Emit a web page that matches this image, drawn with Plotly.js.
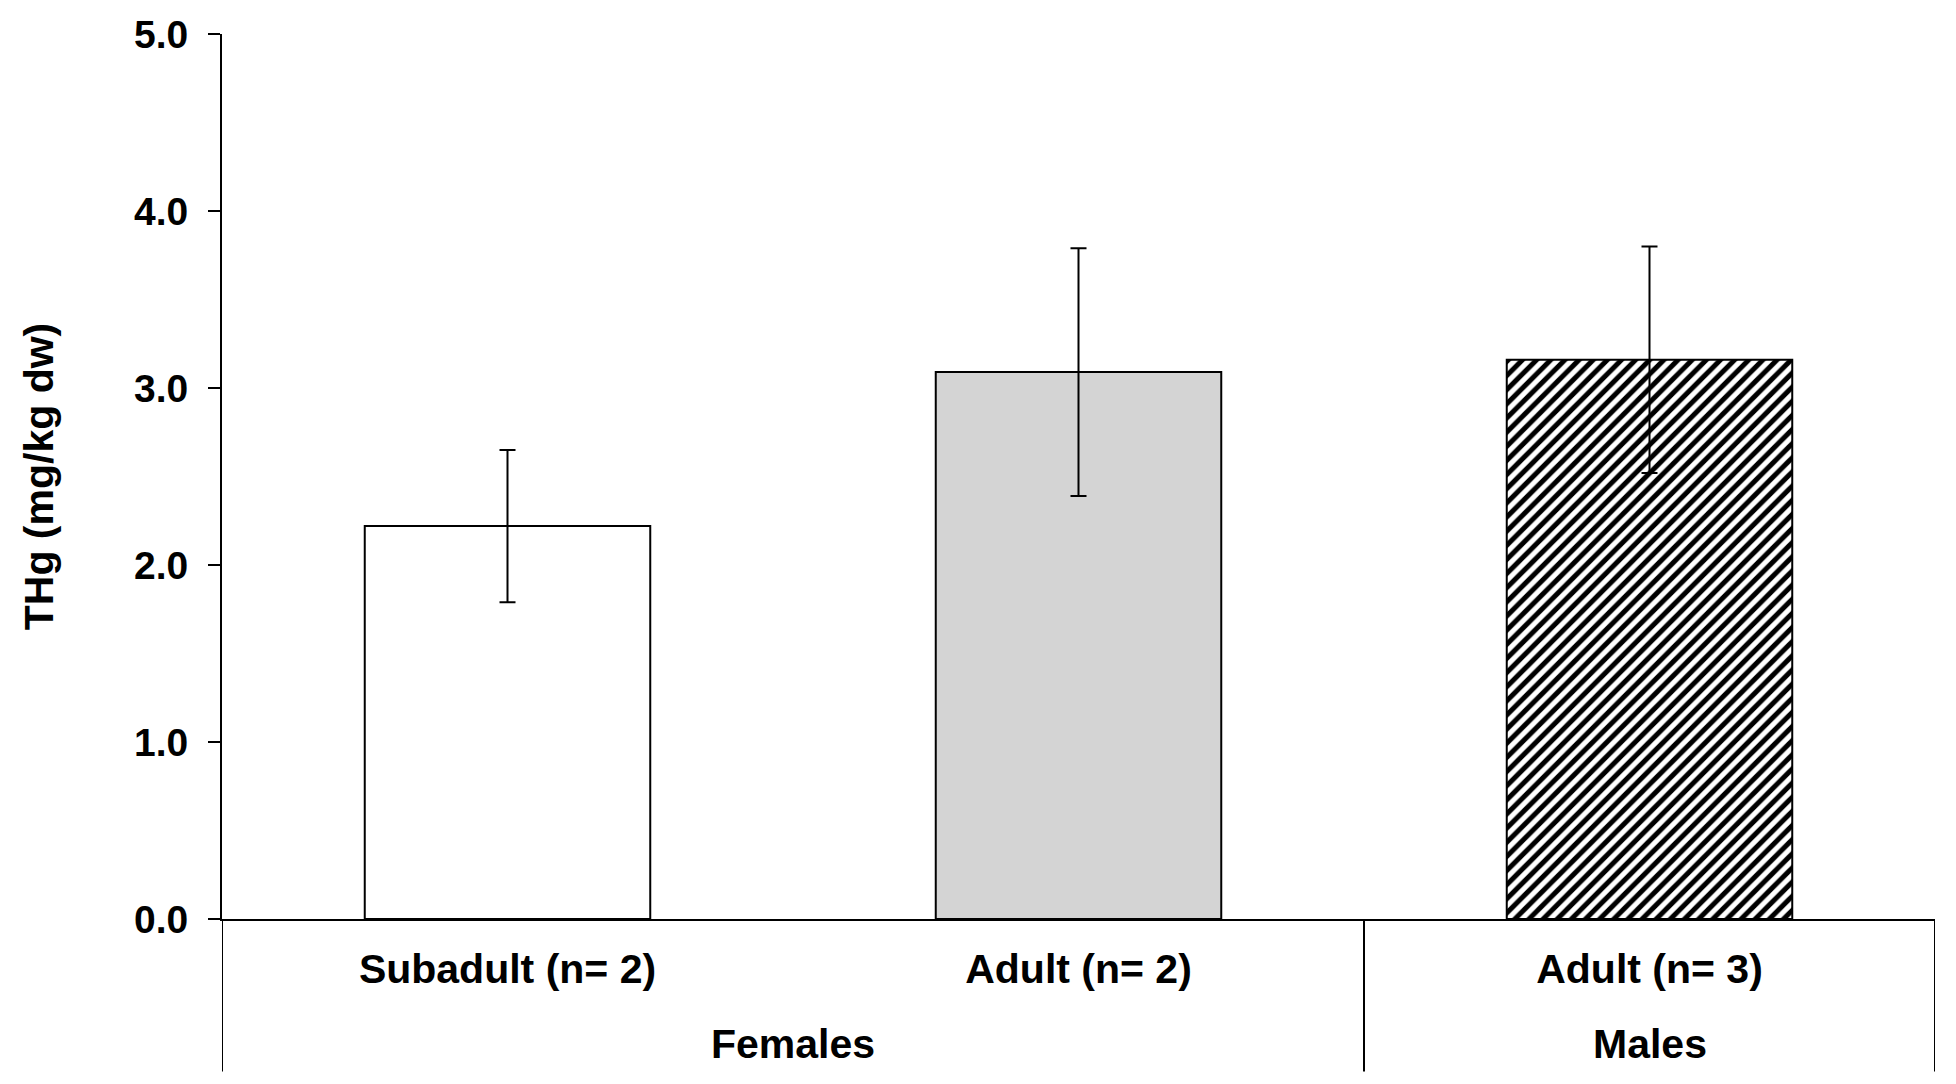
<!DOCTYPE html>
<html>
<head>
<meta charset="utf-8">
<script src="https://cdn.plot.ly/plotly-3.0.1.min.js"></script>
<style>html,body{margin:0;padding:0;background:#fff;}#chart{width:1956px;height:1084px;}</style>
</head>
<body>
<div id="chart"></div>
<script>
// ---- data ----
const ageClasses = ["Subadult (n= 2)", "Adult (n= 2)", "Adult (n= 3)"];
const sexGroups = ["Females", "Females", "Males"];
const thgMeans = [2.22, 3.09, 3.16];
const thgErrors = [0.43, 0.70, 0.64];
// fill colour (for the hatched bar this is the hatch-line colour)
const barColors = ["#ffffff", "#d4d4d4", "#000000"];
const barPatterns = ["", "", "/"];
const yTickValues = [0, 1, 2, 3, 4, 5];
const yTickLabels = ["0.0", "1.0", "2.0", "3.0", "4.0", "5.0"];

const FONT = "Liberation Sans, Arial, sans-serif";
const idx = ageClasses.map((_, i) => i);

// group label positions from the grouping array
const groups = [];
sexGroups.forEach((g, i) => {
  const last = groups[groups.length - 1];
  if (last && last.name === g) { last.end = i; }
  else groups.push({ name: g, start: i, end: i });
});

const trace = {
  type: "bar",
  x: idx,
  y: thgMeans,
  width: 0.5,
  marker: {
    color: barColors,
    line: { color: "#000", width: 2 },
    pattern: { shape: barPatterns, size: 10, solidity: 0.5, fillmode: "replace" }
  },
  error_y: { type: "data", array: thgErrors, visible: true, color: "#000", thickness: 2, width: 8 },
  hoverinfo: "skip",
  showlegend: false
};

const BELOW = -0.1723;
const shapes = [];
// vertical separators under the axis: left edge, group boundaries, right edge
const bounds = [-0.5];
groups.forEach(g => bounds.push(g.end + 0.5));
bounds.forEach(b => shapes.push({
  type: "line", xref: "x", yref: "paper", x0: b, x1: b, y0: 0, y1: BELOW,
  line: { color: "#000", width: 2 }
}));

const annotations = groups.map(g => ({
  text: g.name, xref: "x", yref: "paper", x: (g.start + g.end) / 2, y: -0.1418,
  xanchor: "center", yanchor: "middle", showarrow: false,
  font: { family: FONT, size: 41, color: "#000", weight: "bold" }
}));

const layout = {
  width: 1956, height: 1084,
  margin: { l: 222, r: 21, t: 34, b: 165, pad: 0 },
  paper_bgcolor: "#fff", plot_bgcolor: "#fff",
  showlegend: false,
  xaxis: {
    range: [-0.5, 2.5],
    tickmode: "array", tickvals: idx, ticktext: ageClasses,
    ticks: "", showgrid: false, zeroline: false,
    showline: true, linecolor: "#000", linewidth: 2,
    ticklabelstandoff: 13,
    tickfont: { family: FONT, size: 41, color: "#000", weight: "bold" },
    fixedrange: true
  },
  yaxis: {
    range: [0, 5],
    tickmode: "array", tickvals: yTickValues, ticktext: yTickLabels,
    ticks: "outside", ticklen: 12, tickwidth: 2, tickcolor: "#000",
    showgrid: false, zeroline: false,
    showline: true, linecolor: "#000", linewidth: 2,
    ticklabelstandoff: 12,
    tickfont: { family: FONT, size: 39, color: "#000", weight: "bold" },
    title: { text: "THg (mg/kg dw)", standoff: 68, font: { family: FONT, size: 41, color: "#000", weight: "bold" } },
    fixedrange: true
  },
  shapes: shapes,
  annotations: annotations
};

Plotly.newPlot("chart", [trace], layout, { displayModeBar: false, staticPlot: true });
</script>
</body>
</html>
